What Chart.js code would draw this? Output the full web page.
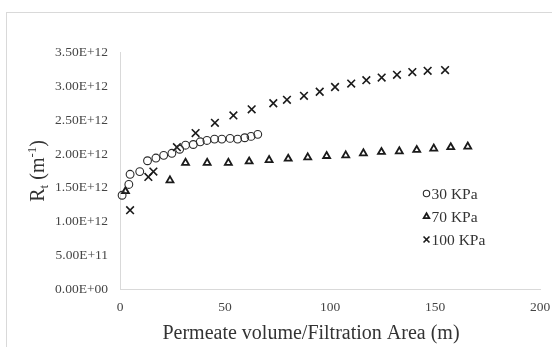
<!DOCTYPE html>
<html>
<head>
<meta charset="utf-8">
<script src="https://cdn.jsdelivr.net/npm/chart.js@4/dist/chart.umd.min.js"></script>
<style>
  html, body { margin: 0; padding: 0; background: #fff; overflow: hidden; }
  #wrap { position: relative; width: 552px; height: 347px; overflow: hidden; }
  #frame { position: absolute; left: 6px; top: 12px; width: 620px; height: 420px;
           border: 1px solid #d9d9d9; box-sizing: border-box; }
  canvas { position: absolute; left: 0; top: 0; }
</style>
</head>
<body>
<div id="wrap">
  <div id="frame"></div>
  <canvas id="c" width="552" height="347"></canvas>
</div>
<script>
// Total filtration resistance Rt (m^-1) versus permeate volume per filtration area (m)
const seriesNames = ['30 KPa', '70 KPa', '100 KPa'];

const pv30 = [1.0, 4.2, 4.8, 9.4, 13.1, 17.1, 20.8, 24.7, 28.4, 31.2, 34.9, 38.2, 41.4, 45.0, 48.5, 52.4, 56.0, 59.4, 62.4, 65.6];
const rt30 = [1.39e12, 1.55e12, 1.70e12, 1.74e12, 1.90e12, 1.94e12, 1.98e12, 2.01e12, 2.07e12, 2.13e12,
              2.14e12, 2.18e12, 2.20e12, 2.22e12, 2.22e12, 2.23e12, 2.22e12, 2.24e12, 2.26e12, 2.29e12];

const pv70 = [2.6, 23.8, 31.2, 41.5, 51.6, 61.5, 71.0, 80.1, 89.4, 98.4, 107.5, 115.9, 124.5, 133.0, 141.3, 149.4, 157.5, 165.6];
const rt70 = [1.45e12, 1.61e12, 1.87e12, 1.87e12, 1.87e12, 1.89e12, 1.91e12, 1.93e12, 1.95e12, 1.97e12,
              1.98e12, 2.01e12, 2.03e12, 2.04e12, 2.06e12, 2.08e12, 2.10e12, 2.11e12];

const pv100 = [4.8, 13.5, 15.9, 27.1, 36.0, 45.2, 54.0, 62.7, 73.0, 79.5, 87.6, 95.1, 102.4, 110.1, 117.3, 124.6, 131.9, 139.2, 146.5, 154.8];
const rt100 = [1.17e12, 1.66e12, 1.74e12, 2.10e12, 2.31e12, 2.46e12, 2.57e12, 2.66e12, 2.75e12, 2.80e12,
               2.86e12, 2.92e12, 2.99e12, 3.04e12, 3.09e12, 3.13e12, 3.17e12, 3.21e12, 3.23e12, 3.24e12];

const xTicks = [0, 50, 100, 150, 200];
const yTicks = [0, 0.5e12, 1.0e12, 1.5e12, 2.0e12, 2.5e12, 3.0e12, 3.5e12];
const yTickLabels = ['0.00E+00', '5.00E+11', '1.00E+12', '1.50E+12', '2.00E+12', '2.50E+12', '3.00E+12', '3.50E+12'];

const SERIF = "'Liberation Serif', 'Times New Roman', serif";
const TICK_COLOR = '#454545';
const AXIS_COLOR = '#d9d9d9';

function toPoints(xs, ys) { return xs.map((x, i) => ({ x: x, y: ys[i] })); }

const markerStyles = [
  { pointStyle: 'circle',   radius: 3.9, borderWidth: 1.1, color: '#2b2b2b' },
  { pointStyle: 'triangle', radius: 4.0, borderWidth: 1.8, color: '#1a1a1a' },
  { pointStyle: 'crossRot', radius: 5.4, borderWidth: 1.6, color: '#1a1a1a' }
];

function makeDataset(i, xs, ys) {
  const m = markerStyles[i];
  return {
    label: seriesNames[i],
    data: toPoints(xs, ys),
    showLine: false,
    pointStyle: m.pointStyle,
    pointRadius: m.radius,
    pointHoverRadius: m.radius,
    pointBorderWidth: m.borderWidth,
    pointBorderColor: m.color,
    pointBackgroundColor: 'rgba(255,255,255,0)',
    borderColor: m.color,
    clip: false
  };
}

// Legend drawn inside the plot, markers to the left of each label
const legendPlugin = {
  id: 'innerLegend',
  afterDraw(chart) {
    const ctx = chart.ctx;
    const rows = [193.5, 216.5, 239.5];
    ctx.save();
    ctx.font = '15.5px ' + SERIF;
    ctx.textBaseline = 'middle';
    ctx.textAlign = 'left';
    seriesNames.forEach((name, i) => {
      const m = markerStyles[i];
      ctx.strokeStyle = m.color;
      ctx.fillStyle = 'rgba(255,255,255,0)';
      ctx.lineWidth = m.borderWidth;
      Chart.helpers.drawPoint(ctx, {
        pointStyle: m.pointStyle,
        radius: m.pointStyle === 'crossRot' ? 4.2 : 3.2,
        rotation: 0,
        borderWidth: m.borderWidth
      }, 426.5, rows[i]);
      ctx.fillStyle = '#333333';
      ctx.fillText(name, 431.5, rows[i] + 1);
    });
    ctx.restore();
  }
};

// Axis titles, including the subscript / superscript of the y title
const titlePlugin = {
  id: 'axisTitles',
  afterDraw(chart) {
    const ctx = chart.ctx;
    const area = chart.chartArea;
    ctx.save();
    ctx.fillStyle = '#333333';
    ctx.textBaseline = 'alphabetic';
    ctx.textAlign = 'center';
    ctx.font = '20px ' + SERIF;
    ctx.fillText('Permeate volume/Filtration Area (m)', 311, 339);

    const big = '20px ' + SERIF, small = '13px ' + SERIF;
    const parts = [
      { t: 'R', f: big, dy: 0 },
      { t: 't', f: small, dy: 4 },
      { t: ' (m', f: big, dy: 0 },
      { t: '-1', f: small, dy: -8 },
      { t: ')', f: big, dy: 0 }
    ];
    let total = 0;
    parts.forEach(p => { ctx.font = p.f; p.w = ctx.measureText(p.t).width; total += p.w; });
    ctx.translate(44, (area.top + area.bottom) / 2);
    ctx.rotate(-Math.PI / 2);
    ctx.textAlign = 'left';
    let x = -total / 2;
    parts.forEach(p => { ctx.font = p.f; ctx.fillText(p.t, x, p.dy); x += p.w; });
    ctx.restore();
  }
};

new Chart(document.getElementById('c'), {
  type: 'scatter',
  data: {
    datasets: [
      makeDataset(0, pv30, rt30),
      makeDataset(1, pv70, rt70),
      makeDataset(2, pv100, rt100)
    ]
  },
  options: {
    responsive: false,
    animation: false,
    devicePixelRatio: 1,
    layout: { padding: { left: 0, right: 12, top: 52.5, bottom: 0 } },
    plugins: { legend: { display: false }, tooltip: { enabled: false } },
    scales: {
      x: {
        type: 'linear',
        min: xTicks[0],
        max: xTicks[xTicks.length - 1],
        afterBuildTicks: s => { s.ticks = xTicks.map(v => ({ value: v })); },
        afterFit: s => { s.height = 57.7; s.paddingLeft = 0; s.paddingRight = 0; },
        grid: { display: false, drawTicks: false },
        border: { display: true, color: AXIS_COLOR, width: 1 },
        ticks: { color: TICK_COLOR, font: { family: SERIF, size: 13.5 }, padding: 10, maxRotation: 0 }
      },
      y: {
        type: 'linear',
        min: yTicks[0],
        max: yTicks[yTicks.length - 1],
        afterBuildTicks: s => { s.ticks = yTicks.map(v => ({ value: v })); },
        afterFit: s => { s.width = 120; s.paddingTop = 0; s.paddingBottom = 0; },
        grid: { display: false, drawTicks: false },
        border: { display: true, color: AXIS_COLOR, width: 1 },
        ticks: {
          color: TICK_COLOR,
          font: { family: SERIF, size: 13.5 },
          padding: 12,
          callback: (v, i) => yTickLabels[i]
        }
      }
    }
  },
  plugins: [legendPlugin, titlePlugin]
});
</script>
</body>
</html>
